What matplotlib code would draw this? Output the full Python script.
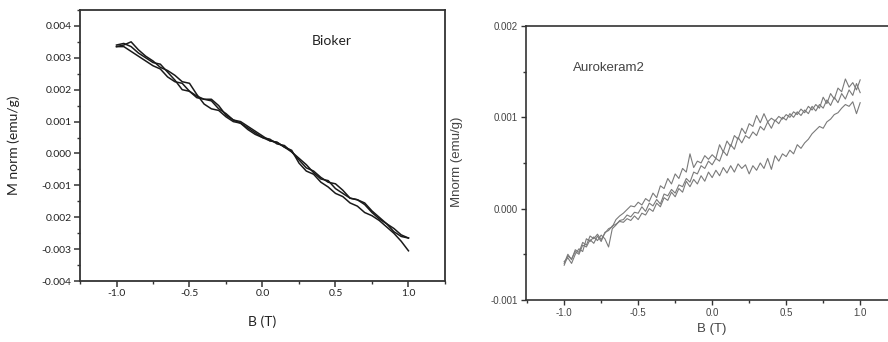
import numpy as np
import matplotlib
matplotlib.use("Agg")
import matplotlib.pyplot as plt
from matplotlib.ticker import MultipleLocator

# ---- left panel: Bioker (values in units of 1e-3 emu/g) ----
b_left = [-1.0, -0.95, -0.9, -0.85, -0.8, -0.75, -0.7, -0.65, -0.6, -0.55,
          -0.5, -0.45, -0.4, -0.35, -0.3, -0.25, -0.2, -0.15, -0.1, -0.05,
          0.0, 0.05, 0.1, 0.15, 0.2, 0.25, 0.3, 0.35, 0.4, 0.45,
          0.5, 0.55, 0.6, 0.65, 0.7, 0.75, 0.8, 0.85, 0.9, 0.95, 1.0]
bioker_up1 = [3.40, 3.45, 3.35, 3.15, 3.00, 2.85, 2.80, 2.55, 2.30, 2.00,
              1.95, 1.80, 1.70, 1.65, 1.40, 1.25, 1.05, 1.00, 0.85, 0.70,
              0.55, 0.40, 0.35, 0.20, 0.10, -0.30, -0.55, -0.65, -0.90, -1.05,
              -1.25, -1.35, -1.55, -1.65, -1.85, -1.95, -2.10, -2.30, -2.50, -2.75, -3.05]
bioker_down = [3.35, 3.35, 3.20, 3.05, 2.90, 2.75, 2.65, 2.40, 2.25, 2.20,
               1.95, 1.75, 1.70, 1.70, 1.50, 1.20, 1.05, 0.95, 0.80, 0.65,
               0.50, 0.40, 0.35, 0.20, 0.05, -0.15, -0.35, -0.60, -0.80, -0.85,
               -1.10, -1.25, -1.40, -1.45, -1.60, -1.85, -2.05, -2.20, -2.45, -2.60, -2.65]
bioker_up2 = [3.35, 3.40, 3.50, 3.25, 3.05, 2.90, 2.70, 2.60, 2.45, 2.25,
              2.20, 1.85, 1.55, 1.40, 1.35, 1.15, 1.00, 0.95, 0.75, 0.60,
              0.50, 0.45, 0.30, 0.25, 0.05, -0.20, -0.45, -0.55, -0.75, -0.90,
              -0.95, -1.15, -1.40, -1.45, -1.55, -1.80, -2.00, -2.20, -2.35, -2.55, -2.65]
left_yticks = [-0.004, -0.003, -0.002, -0.001, 0.0, 0.001, 0.002, 0.003, 0.004]
left_ylabels = ["-0.004", "-0.003", "0.002", "-0.001", "0.000", "0.001", "0.002", "0.003", "0.004"]

# ---- right panel: Aurokeram2 (values in units of 1e-3 emu/g) ----
b_right = [-1.0, -0.975, -0.95, -0.925, -0.9, -0.875, -0.85, -0.825, -0.8, -0.775,
           -0.75, -0.725, -0.7, -0.675, -0.65, -0.625, -0.6, -0.575, -0.55, -0.525,
           -0.5, -0.475, -0.45, -0.425, -0.4, -0.375, -0.35, -0.325, -0.3, -0.275,
           -0.25, -0.225, -0.2, -0.175, -0.15, -0.125, -0.1, -0.075, -0.05, -0.025,
           0.0, 0.025, 0.05, 0.075, 0.1, 0.125, 0.15, 0.175, 0.2, 0.225,
           0.25, 0.275, 0.3, 0.325, 0.35, 0.375, 0.4, 0.425, 0.45, 0.475,
           0.5, 0.525, 0.55, 0.575, 0.6, 0.625, 0.65, 0.675, 0.7, 0.725,
           0.75, 0.775, 0.8, 0.825, 0.85, 0.875, 0.9, 0.925, 0.95, 0.975, 1.0]
auro_upper = [-0.60, -0.50, -0.56, -0.45, -0.48, -0.37, -0.40, -0.30, -0.33, -0.28,
              -0.34, -0.27, -0.22, -0.20, -0.12, -0.08, -0.05, -0.01, 0.03, 0.02,
              0.07, 0.04, 0.11, 0.08, 0.17, 0.12, 0.25, 0.22, 0.33, 0.27,
              0.38, 0.33, 0.44, 0.40, 0.60, 0.45, 0.52, 0.50, 0.58, 0.54,
              0.59, 0.55, 0.70, 0.62, 0.74, 0.68, 0.80, 0.76, 0.88, 0.82,
              0.93, 0.90, 1.02, 0.94, 1.04, 0.95, 0.99, 0.96, 1.01, 0.98,
              1.03, 1.00, 1.06, 1.03, 1.09, 1.05, 1.12, 1.08, 1.14, 1.10,
              1.22, 1.15, 1.26, 1.20, 1.32, 1.28, 1.42, 1.33, 1.38, 1.30, 1.41]
auro_middle = [-0.58, -0.54, -0.60, -0.50, -0.44, -0.47, -0.33, -0.36, -0.31, -0.35,
               -0.29, -0.33, -0.42, -0.22, -0.18, -0.13, -0.12, -0.07, -0.09, -0.04,
               -0.05, 0.02, -0.03, 0.06, 0.03, 0.10, 0.05, 0.16, 0.14, 0.21,
               0.17, 0.26, 0.24, 0.33, 0.29, 0.40, 0.38, 0.47, 0.44, 0.52,
               0.48, 0.55, 0.52, 0.63, 0.58, 0.70, 0.65, 0.78, 0.72, 0.80,
               0.77, 0.84, 0.80, 0.90, 0.86, 0.95, 0.88, 0.97, 0.93, 1.00,
               0.97, 1.04, 1.00, 1.06, 1.02, 1.08, 1.04, 1.12, 1.07, 1.14,
               1.10, 1.19, 1.13, 1.22, 1.16, 1.26, 1.20, 1.30, 1.24, 1.37, 1.27]
auro_lower = [-0.62, -0.52, -0.55, -0.47, -0.50, -0.40, -0.42, -0.34, -0.38, -0.30,
              -0.36, -0.26, -0.24, -0.19, -0.17, -0.14, -0.15, -0.11, -0.13, -0.08,
              -0.12, -0.05, -0.07, 0.00, -0.03, 0.06, 0.02, 0.12, 0.09, 0.18,
              0.13, 0.22, 0.18, 0.30, 0.24, 0.32, 0.27, 0.36, 0.30, 0.40,
              0.34, 0.42, 0.36, 0.45, 0.39, 0.47, 0.40, 0.49, 0.44, 0.48,
              0.38, 0.47, 0.42, 0.50, 0.44, 0.55, 0.43, 0.58, 0.52, 0.60,
              0.57, 0.64, 0.60, 0.70, 0.66, 0.72, 0.76, 0.82, 0.86, 0.90,
              0.88, 0.95, 0.98, 1.03, 1.05, 1.10, 1.14, 1.12, 1.17, 1.04, 1.16]
right_yticks = [-0.001, 0.0, 0.001, 0.002]
right_ylabels = ["-0.001", "0.000", "0.001", "0.002"]
b_ticks = [-1.0, -0.5, 0.0, 0.5, 1.0]
b_labels = ["-1.0", "-0.5", "0.0", "0.5", "1.0"]

fig = plt.figure(figsize=(8.88, 3.42), dpi=100)

# left panel
axl = fig.add_axes([0.0901, 0.178, 0.411, 0.793])
for y in (bioker_up1, bioker_down, bioker_up2):
    axl.plot(b_left, np.array(y) * 1e-3, color="#1a1a1a", lw=1.1)
axl.set_xlim(-1.25, 1.25)
axl.set_ylim(-0.004, 0.0045)
axl.set_xticks(b_ticks, b_labels)
axl.set_yticks(left_yticks, left_ylabels)
axl.xaxis.set_minor_locator(MultipleLocator(0.25))
axl.yaxis.set_minor_locator(MultipleLocator(0.0005))
axl.tick_params(which="major", direction="out", length=4, width=1.1, color="#333333",
                labelsize=7.5, labelcolor="#222222", pad=2)
axl.tick_params(which="minor", direction="out", length=2.5, width=1.0, color="#333333")
for lab in axl.get_xticklabels() + axl.get_yticklabels():
    lab.set_fontfamily("Lato")
for s in axl.spines.values():
    s.set_linewidth(1.3)
    s.set_color("#333333")
axl.set_ylabel("M norm (emu/g)", fontsize=10, family="Lato", color="#222222")
axl.set_xlabel("B (T)", fontsize=10, family="Lato", color="#222222")
axl.yaxis.set_label_coords(-0.164, 0.5)
axl.xaxis.set_label_coords(0.5, -0.125)
axl.text(0.636, 0.886, "Bioker", transform=axl.transAxes, fontsize=10,
         family="Lato", color="#222222", va="center")

# right panel
axr = fig.add_axes([0.592, 0.123, 0.42, 0.801])
for y in (auro_upper, auro_middle, auro_lower):
    axr.plot(b_right, np.array(y) * 1e-3, color="#7a7a7a", lw=0.8)
axr.set_xlim(-1.26, 1.26)
axr.set_ylim(-0.001, 0.002)
axr.set_xticks(b_ticks, b_labels)
axr.set_yticks(right_yticks, right_ylabels)
axr.xaxis.set_minor_locator(MultipleLocator(0.25))
axr.yaxis.set_minor_locator(MultipleLocator(0.0005))
axr.tick_params(which="major", direction="out", length=3.5, width=1.0, color="#333333",
                labelsize=7, labelcolor="#444444", pad=2)
axr.tick_params(which="minor", direction="out", length=2.5, width=1.0, color="#333333")
for lab in axr.get_xticklabels() + axr.get_yticklabels():
    lab.set_fontfamily("Liberation Sans")
for s in axr.spines.values():
    s.set_linewidth(1.2)
    s.set_color("#333333")
axr.set_ylabel("Mnorm (emu/g)", fontsize=9.5, family="Liberation Sans", color="#444444")
axr.set_xlabel("B (T)", fontsize=9.5, family="Liberation Sans", color="#444444")
axr.yaxis.set_label_coords(-0.169, 0.504)
axr.xaxis.set_label_coords(0.5, -0.085)
axr.text(0.126, 0.847, "Aurokeram2", transform=axr.transAxes, fontsize=9.5,
         family="Liberation Sans", color="#444444", va="center")

fig.savefig("out.png", dpi=100)
